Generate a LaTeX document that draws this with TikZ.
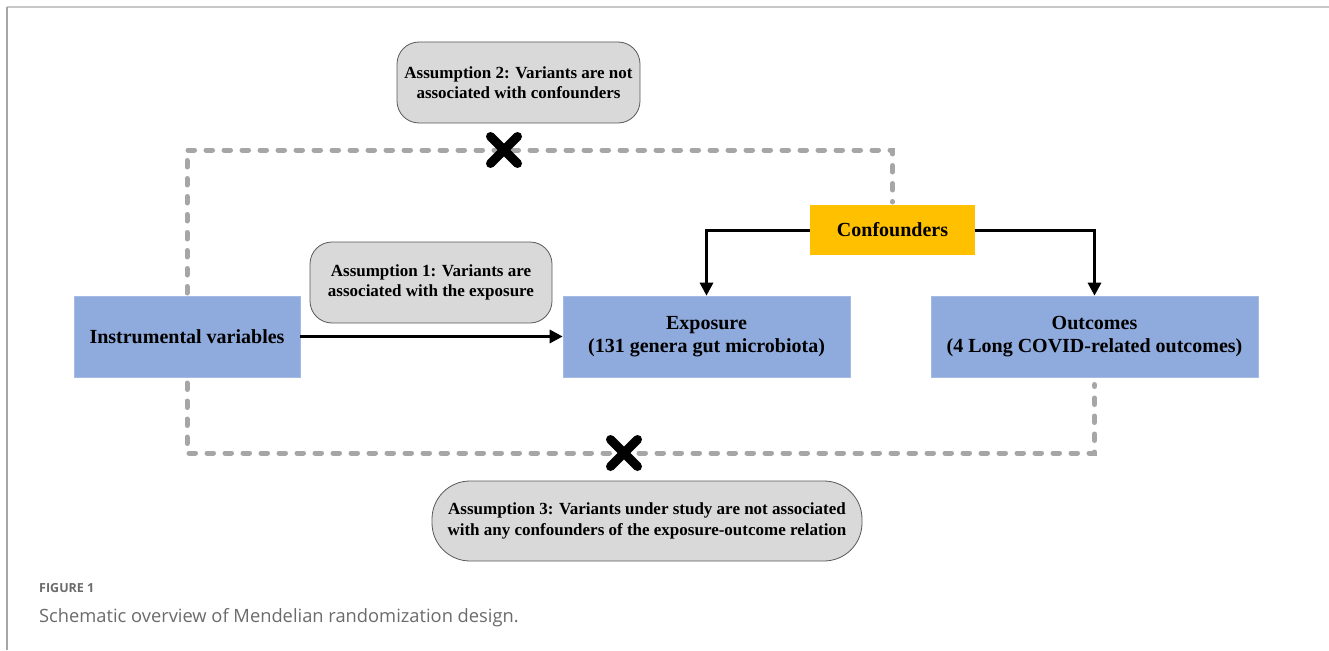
\documentclass[tikz,border=0pt]{standalone}
\usepackage{fontspec}
\setmainfont{Liberation Serif}
\newfontfamily\capfont{Open Sans}
\usetikzlibrary{arrows.meta,calc}
\definecolor{boxblue}{HTML}{8FAADC}
\definecolor{confy}{HTML}{FFC000}
\definecolor{assumfill}{HTML}{D9D9D9}
\definecolor{dashgray}{HTML}{A6A6A6}
\definecolor{capgray}{HTML}{6B6B6B}
\tikzset{
  mainbox/.style={fill=boxblue, draw=boxblue!80!white, line width=0.6pt, minimum height=81pt, inner sep=2pt, align=center, font=\fontsize{20}{23}\selectfont\bfseries},
  confbox/.style={fill=confy, minimum width=165pt, minimum height=50pt, inner sep=2pt, align=center, font=\fontsize{20}{23}\selectfont\bfseries},
  assumbox/.style={fill=assumfill, draw=black!65, line width=0.8pt, rounded corners=22pt, minimum height=81pt, inner sep=2pt, align=center, font=\fontsize{17}{20.5}\selectfont\bfseries},
  dashline/.style={draw=dashgray, line width=5pt, line cap=round, dash pattern=on 6.5pt off 11.5pt},
  arrowline/.style={draw=black, line width=3pt, -{Triangle[length=13pt,width=13pt]}},
  xmark/.style={draw=black, line width=9pt, line cap=round},
  frameline/.style={draw=black!22, line width=2pt}
}
\begin{document}
\begin{tikzpicture}[x=1pt,y=-1pt]
\useasboundingbox (0,0) rectangle (1329,650);
\fill[white] (0,0) rectangle (1329,650);
% frame
\draw[frameline] (7,7) -- (1329,7);
\draw[draw=black!35, line width=1.5pt] (7,7) -- (7,650);

% nodes
\node[mainbox, minimum width=226pt] (iv) at (187,336.5) {Instrumental variables};
\node[mainbox, minimum width=287pt] (exp) at (706.5,336.5) {Exposure\\(131 genera gut microbiota)};
\node[mainbox, minimum width=327pt] (out) at (1094.5,336.5) {Outcomes\\(4 Long COVID-related outcomes)};
\node[confbox] (conf) at (892.5,230) {Confounders};
\node[assumbox, minimum width=243pt] (a2) at (518.5,82.5) {Assumption 2: Variants are not\\associated with confounders};
\node[assumbox, minimum width=242pt] (a1) at (431,282.5) {Assumption 1: Variants are\\associated with the exposure};
\node[assumbox, minimum width=430pt, minimum height=80pt, rounded corners=38pt] (a3) at (647,521) {Assumption 3: Variants under study are not associated\\with any confounders of the exposure-outcome relation};

% dashed paths
\coordinate (tl) at (187,150);
\coordinate (tr) at (892.5,150);
\coordinate (bl) at (187,453);
\coordinate (br) at (1094.5,453);
\draw[dashline] (187,293) -- (tl) -- (tr) -- (892.5,202);
\draw[dashline] (187,383) -- (bl) -- (br) -- (1094.5,384.5);

% arrows
\draw[arrowline] (iv.east) -- (iv.east -| exp.west);
\draw[arrowline] (conf.west) -| (exp.north);
\draw[arrowline] (conf.east) -| (out.north);

% crosses
\coordinate (x1) at (504,150);
\coordinate (x2) at (624,453);
\draw[xmark] ($(x1)+(-13.5,-13.5)$) -- ($(x1)+(13.5,13.5)$);
\draw[xmark] ($(x1)+(-13.5,13.5)$) -- ($(x1)+(13.5,-13.5)$);
\draw[xmark] ($(x2)+(-13.5,-13.5)$) -- ($(x2)+(13.5,13.5)$);
\draw[xmark] ($(x2)+(-13.5,13.5)$) -- ($(x2)+(13.5,-13.5)$);

% caption
\node[anchor=west, inner sep=0pt, text=capgray, font=\capfont\fontsize{12.5}{15}\selectfont\bfseries] (figlab) at (39,588) {FIGURE 1};
\node[anchor=west, inner sep=0pt, text=capgray, font=\capfont\fontsize{18.3}{22}\selectfont] (cap) at (39,618) {Schematic overview of Mendelian randomization design.};
\end{tikzpicture}
\end{document}
